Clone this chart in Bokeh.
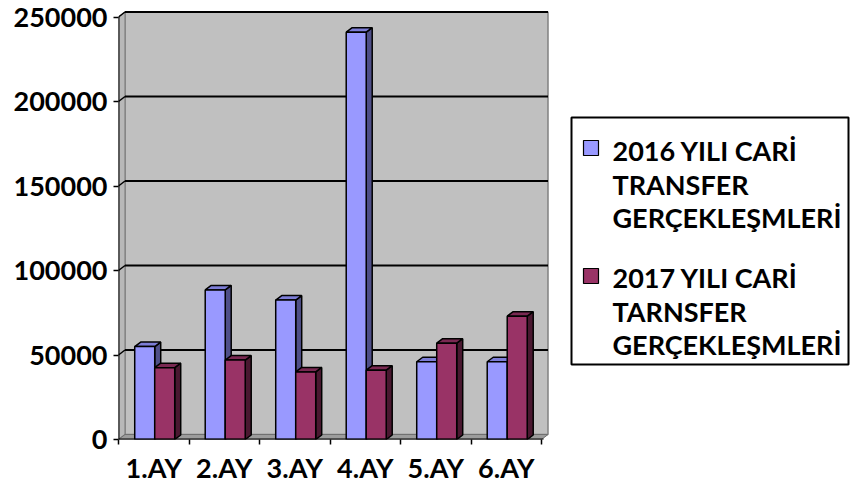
from bokeh.plotting import figure
from bokeh.models import FixedTicker, ColumnDataSource, Range1d
from bokeh.core.properties import value
from bokeh.embed import file_html
from bokeh.resources import INLINE

# ---------------- data ----------------
months = ["1.AY", "2.AY", "3.AY", "4.AY", "5.AY", "6.AY"]
values_2016 = [55000, 88500, 82500, 241000, 46000, 46000]
values_2017 = [42500, 47000, 40000, 41000, 57000, 73000]
series_labels = ["2016 YILI CARİ\nTRANSFER\nGERÇEKLEŞMLERİ",
                 "2017 YILI CARİ\nTARNSFER\nGERÇEKLEŞMLERİ"]
y_ticks = [0, 50000, 100000, 150000, 200000, 250000]

# ---------------- layout (pixels) ----------------
W, H = 850, 487
LEFT = 118          # frame left edge = y axis line
AXIS_Y = 439        # pixel row of value 0 = frame bottom
BOTTOM = H - AXIS_Y
CAT_PX = 70.5
PX_PER_50K = 84.5
frame_w = W - LEFT
frame_h = AXIS_Y
ux = 1.0 / CAT_PX
uy = 50000.0 / PX_PER_50K
x_end = frame_w * ux
y_end = frame_h * uy
ncat = len(months)
ymax = y_ticks[-1]


def px_x(px):
    return (px - LEFT) * ux


def px_y(py):
    return (AXIS_Y - py) * uy


# depth offsets
dxw, dyw = 6.5 * ux, 5.0 * uy     # walls
dxb, dyb = 6.0 * ux, 4.5 * uy     # bars
bar_off, bar_w = 0.23, 20.0 * ux

FONT = "Lato"

p = figure(width=W, height=H, x_range=Range1d(0, x_end), y_range=Range1d(0, y_end),
           output_backend="svg", toolbar_location=None,
           min_border_left=LEFT, min_border_right=0, min_border_top=0,
           min_border_bottom=BOTTOM)
p.outline_line_color = None
p.grid.visible = False
p.background_fill_color = "white"
p.border_fill_color = "white"

# walls and floor
p.patch([dxw, ncat + dxw, ncat + dxw, dxw], [dyw, dyw, ymax + dyw, ymax + dyw],
        fill_color="#C0C0C0", line_color="#808080", line_width=1.5)
p.patch([0, dxw, dxw, 0], [0, dyw, ymax + dyw, ymax],
        fill_color="#B8B8B8", line_color="#808080", line_width=1.2)
p.patch([0, ncat, ncat + dxw, dxw], [0, 0, dyw, dyw],
        fill_color="#9C9C9C", line_color="#707070", line_width=1.0)

# gridlines on back wall and left wall
gt = y_ticks[1:]
p.segment(x0=[dxw] * len(gt), y0=[t + dyw for t in gt],
          x1=[ncat + dxw] * len(gt), y1=[t + dyw for t in gt],
          line_color="black", line_width=2)
p.segment(x0=[0] * len(gt), y0=gt, x1=[dxw] * len(gt), y1=[t + dyw for t in gt],
          line_color="black", line_width=1.5)

# 3D bars
front_cols = ["#9999FF", "#993366"]
top_cols = ["#7D7DD6", "#7A2952"]
side_cols = ["#4F4F88", "#4A1830"]
for s, vals in enumerate([values_2016, values_2017]):
    L = [i + bar_off + s * bar_w for i in range(ncat)]
    R = [l + bar_w for l in L]
    side_xs = [[r, r + dxb, r + dxb, r] for r in R]
    side_ys = [[0, dyb, v + dyb, v] for v in vals]
    top_xs = [[l, r, r + dxb, l + dxb] for l, r in zip(L, R)]
    top_ys = [[v, v, v + dyb, v + dyb] for v in vals]
    p.patches(side_xs, side_ys, fill_color=side_cols[s], line_color="black", line_width=1.5)
    p.patches(top_xs, top_ys, fill_color=top_cols[s], line_color="black", line_width=1.5)
    src = ColumnDataSource(dict(x=[(l + r) / 2 for l, r in zip(L, R)], top=vals))
    p.vbar(x="x", top="top", bottom=0, width=bar_w, source=src,
           fill_color=front_cols[s], line_color="black", line_width=1.5)

# axis lines
p.segment(x0=[0], y0=[0], x1=[0], y1=[ymax], line_color="black", line_width=2)
p.segment(x0=[0], y0=[0], x1=[ncat + 0.03], y1=[0], line_color="black", line_width=2)

# x axis
xa = p.xaxis[0]
xa.ticker = FixedTicker(ticks=[i + 0.5 for i in range(ncat)], minor_ticks=list(range(ncat + 1)))
xa.major_label_overrides = {i + 0.5: m for i, m in enumerate(months)}
xa.axis_line_color = None
xa.major_tick_out = 0
xa.major_tick_in = 0
xa.major_tick_line_color = None
xa.minor_tick_out = 5
xa.minor_tick_in = 0
xa.minor_tick_line_color = "black"
xa.minor_tick_line_width = 1.5
xa.major_label_standoff = 6
xa.major_label_text_font = FONT
xa.major_label_text_font_style = "bold"
xa.major_label_text_font_size = "27px"
xa.major_label_text_color = "black"

# y axis
ya = p.yaxis[0]
ya.ticker = FixedTicker(ticks=y_ticks)
ya.axis_line_color = None
ya.major_tick_out = 5
ya.major_tick_in = 0
ya.major_tick_line_color = "black"
ya.major_tick_line_width = 1.5
ya.minor_tick_line_color = None
ya.major_label_standoff = 6
ya.major_label_text_font = FONT
ya.major_label_text_font_style = "bold"
ya.major_label_text_font_size = "27px"
ya.major_label_text_color = "black"
ya.formatter.use_scientific = False

# legend (drawn manually so the swatch sits beside the first line)
LEG_L, LEG_R, LEG_T, LEG_B = 571, 848, 117, 364
p.quad(left=[px_x(LEG_L)], right=[px_x(LEG_R)], top=[px_y(LEG_T)], bottom=[px_y(LEG_B)],
       fill_color="white", line_color="black", line_width=2)
entry_top = [140, 268]
sw_x0, sw_size = 583, 15
txt_x = 612
line_gap = 33.5
first_mid = [150, 277]
for s in range(2):
    p.quad(left=[px_x(sw_x0)], right=[px_x(sw_x0 + sw_size)],
           top=[px_y(entry_top[s])], bottom=[px_y(entry_top[s] + sw_size)],
           fill_color=front_cols[s], line_color="black", line_width=1.2)
    lines = series_labels[s].split("\n")
    p.text(x=[px_x(txt_x)] * len(lines),
           y=[px_y(first_mid[s] + k * line_gap) for k in range(len(lines))],
           text=lines, text_font=value(FONT), text_font_style="bold",
           text_font_size="27px", text_baseline="middle", text_align="left",
           text_color="black")

open("out.html", "w").write(file_html(p, INLINE))
